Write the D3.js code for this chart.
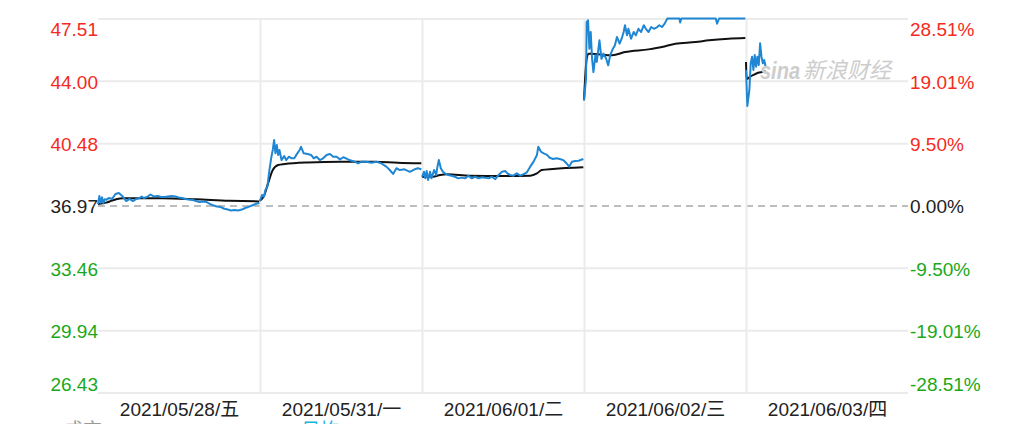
<!DOCTYPE html>
<html>
<head>
<meta charset="utf-8">
<script src="https://cdn.jsdelivr.net/npm/d3@7/dist/d3.min.js"></script>
<style>
body { margin:0; background:#fff; }
svg { font-family:'Liberation Sans', Arial, 'Noto Sans CJK SC', sans-serif; display:block; }
.grid line { stroke:#ebebeb; stroke-width:2; }
.grid .domain, .axis .domain { display:none; }
</style>
</head>
<body>
<div id="plot"></div>
<script>
// five day intraday chart
var dayLabels = ['2021/05/28/五', '2021/05/31/一', '2021/06/01/二', '2021/06/02/三', '2021/06/03/四'];
var dayLen = 241;
var preClose = 36.97;
var priceTicks = [47.51, 44.00, 40.48, 36.97, 33.46, 29.94, 26.43];
var pctTicks = [28.51, 19.01, 9.50, 0.00, -9.50, -19.01, -28.51];

// [minute of day, price]
var day1Price = [[0,37.05],[2,37.50],[4,37.13],[6,37.43],[8,37.10],[10,37.32],[13,37.30],[16,37.39],[21,37.34],[26,37.62],[31,37.67],[36,37.51],[42,37.22],[47,37.34],[52,37.22],[57,37.34],[62,37.39],[65,37.47],[68,37.39],[73,37.45],[78,37.59],[83,37.48],[89,37.51],[94,37.45],[99,37.45],[104,37.48],[109,37.51],[115,37.48],[120,37.42],[125,37.39],[130,37.34],[135,37.31],[141,37.28],[146,37.22],[151,37.17],[156,37.20],[161,37.17],[167,37.05],[172,36.97],[177,36.91],[182,36.89],[187,36.80],[193,36.74],[198,36.69],[203,36.72],[208,36.69],[214,36.74],[219,36.83],[224,36.89],[229,36.97],[234,37.05],[240,37.11]];
var day1Avg = [[0,37.05],[12,37.13],[21,37.25],[27,37.32],[37,37.38],[96,37.38],[146,37.32],[195,37.24],[240,37.20]];

var day2Price = [[0,37.24],[3,37.56],[6,37.47],[8,37.84],[11,38.03],[14,38.97],[17,39.72],[19,40.10],[21,40.66],[23,39.91],[25,40.38],[27,39.82],[29,40.10],[32,39.53],[36,39.76],[39,39.53],[43,39.72],[47,39.63],[51,39.63],[54,39.82],[59,40.10],[61,40.28],[65,39.91],[71,39.87],[76,39.82],[80,39.63],[84,39.72],[89,39.53],[94,39.63],[99,39.82],[104,39.87],[109,39.72],[114,39.72],[119,39.57],[124,39.69],[128,39.63],[133,39.53],[141,39.44],[146,39.35],[151,39.44],[158,39.44],[166,39.38],[173,39.44],[180,39.35],[188,39.16],[193,38.97],[198,38.75],[203,39.07],[208,38.97],[215,39.01],[223,38.87],[230,39.01],[235,39.07],[240,39.01]];
var day2Avg = [[0,37.24],[6,37.51],[12,38.22],[19,38.97],[27,39.25],[37,39.31],[71,39.40],[121,39.44],[170,39.44],[205,39.38],[240,39.35]];

var day3Price = [[0,38.59],[3,38.87],[5,38.50],[7,38.91],[9,38.41],[12,38.87],[14,38.50],[18,38.97],[21,38.69],[23,39.16],[25,39.53],[28,39.07],[31,38.87],[34,38.78],[39,38.69],[44,38.65],[49,38.59],[54,38.50],[59,38.54],[64,38.50],[69,38.65],[74,38.50],[79,38.59],[84,38.50],[89,38.56],[94,38.54],[99,38.50],[104,38.59],[109,38.45],[114,38.69],[119,38.87],[124,38.91],[127,38.78],[131,38.69],[136,38.65],[141,38.78],[146,38.65],[151,38.73],[156,38.84],[161,39.16],[166,39.44],[171,39.82],[173,40.28],[177,40.00],[181,39.91],[186,39.82],[190,39.66],[195,39.59],[200,39.63],[205,39.59],[210,39.53],[215,39.35],[219,39.16],[223,39.44],[228,39.48],[233,39.49],[240,39.59]];
var day3Avg = [[0,38.59],[16,38.59],[27,38.69],[37,38.73],[71,38.65],[121,38.63],[161,38.65],[171,38.78],[178,38.97],[195,39.03],[240,39.12]];

var day4Price = [[0,42.90],[3,44.12],[4,47.31],[6,47.41],[8,45.81],[10,46.75],[12,45.24],[14,44.49],[17,45.44],[19,45.06],[23,46.28],[26,45.24],[29,45.53],[33,45.24],[36,44.87],[39,45.44],[43,45.81],[46,46.00],[49,46.47],[53,46.09],[56,46.37],[59,46.75],[61,47.13],[64,46.56],[66,46.93],[70,46.37],[74,46.75],[77,46.56],[81,46.93],[85,46.75],[89,47.13],[92,46.93],[96,46.75],[100,47.03],[104,46.93],[109,47.03],[112,47.13],[116,47.03],[120,47.22],[124,47.51],[142,47.51],[143,47.29],[145,47.51],[196,47.51],[198,47.22],[201,47.51],[240,47.51]];
var day4Avg = [[0,42.90],[4,45.24],[7,45.53],[12,45.53],[27,45.47],[42,45.44],[61,45.62],[96,45.77],[116,45.90],[136,46.09],[166,46.18],[186,46.28],[215,46.37],[240,46.41]];

var day5Price = [[0,44.60],[2,42.58],[5,43.48],[7,44.98],[9,45.36],[11,44.61],[13,45.45],[15,44.79],[17,45.36],[19,44.89],[21,46.11],[23,45.36],[25,44.98],[27,45.17],[29,44.83]];
var day5Avg = [[0,45.06],[1,44.10],[6,44.23],[11,44.33],[18,44.45],[26,44.51],[29,44.55]];

var prices = [day1Price, day2Price, day3Price, day4Price, day5Price];
var avgs = [day1Avg, day2Avg, day3Avg, day4Avg, day5Avg];

var W = 1021, H = 424;
var m = {top:18.5, right:113, bottom:31.5, left:98};
var w = W - m.left - m.right;
var h = H - m.top - m.bottom;

var red = '#f52a22', green = '#1aa81a', dark = '#222';

function price_color(v) {
  if (Math.abs(v - preClose) < 1e-6) return dark;
  return v > preClose ? red : green;
}

function pct_color(v) {
  if (Math.abs(v) < 1e-6) return dark;
  return v > 0 ? red : green;
}

var svg = d3.select('#plot').append('svg')
  .attr('width', W)
  .attr('height', H);

var g = svg.append('g')
  .attr('transform', 'translate('+m.left+','+m.top+')');

var xscale = d3.scaleLinear().domain([0, dayLabels.length*dayLen]).range([0, w]);
var yscale = d3.scaleLinear().domain([priceTicks[priceTicks.length-1], priceTicks[0]]).range([h, 0]);
var pscale = d3.scaleLinear().domain([pctTicks[pctTicks.length-1], pctTicks[0]]).range([h, 0]);

// horizontal grid
var ygrid = g.append('g').attr('class', 'grid')
  .call(d3.axisLeft(yscale).tickValues(priceTicks).tickSize(-w).tickFormat(''));

ygrid.selectAll('.tick').filter(function(d) { return d == preClose; })
  .select('line')
  .style('stroke', '#a8a8a8')
  .style('stroke-width', 1.5)
  .style('stroke-dasharray', '7,5');

// vertical grid at day boundaries
var bounds = d3.range(1, dayLabels.length).map(function(i) { return i*dayLen; });
g.append('g').attr('class', 'grid')
  .call(d3.axisBottom(xscale).tickValues(bounds).tickSize(h).tickFormat(''));

// watermark
var wm = svg.append('g').attr('fill', '#cdcdcd').attr('font-style', 'italic');
wm.append('text').attr('x', 760).attr('y', 79).attr('font-size', 24).attr('font-weight', 'bold')
  .attr('textLength', 40).attr('lengthAdjust', 'spacingAndGlyphs').text('sina');
wm.append('text').attr('x', 803).attr('y', 78).attr('font-size', 22).text('新浪财经');

// lines
var line = function(day) {
  return d3.line()
    .x(function(d) { return xscale(day*dayLen + d[0]); })
    .y(function(d) { return yscale(d[1]); });
};

avgs.forEach(function(data, i) {
  g.append('path')
    .attr('d', line(i).curve(d3.curveMonotoneX)(data))
    .attr('fill', 'none')
    .attr('stroke', '#111')
    .attr('stroke-width', 2);
});

prices.forEach(function(data, i) {
  g.append('path')
    .attr('d', line(i)(data))
    .attr('fill', 'none')
    .attr('stroke', '#1f86d4')
    .attr('stroke-width', 2)
    .attr('stroke-linejoin', 'round');
});

// axes labels
var n = priceTicks.length;
function label_dy(d, i) {
  if (i == 0) return '0.92em';
  if (i == n-1) return '-0.13em';
  return '0.38em';
}

var yaxis = g.append('g').attr('class', 'axis')
  .call(d3.axisLeft(yscale).tickValues(priceTicks).tickSize(0).tickPadding(0)
    .tickFormat(function(d) { return d.toFixed(2); }));

var paxis = g.append('g').attr('class', 'axis')
  .attr('transform', 'translate('+w+',0)')
  .call(d3.axisRight(pscale).tickValues(pctTicks).tickSize(0).tickPadding(2)
    .tickFormat(function(d) { return d.toFixed(2)+'%'; }));

yaxis.attr('font-size', 19).attr('font-family', null);
yaxis.selectAll('text').attr('dy', label_dy).attr('fill', price_color);

paxis.attr('font-size', 19).attr('font-family', null);
paxis.selectAll('text').attr('dy', label_dy).attr('fill', pct_color);

var xaxis = g.append('g').attr('class', 'axis')
  .attr('transform', 'translate(0,'+h+')')
  .call(d3.axisBottom(xscale)
    .tickValues(dayLabels.map(function(d, i) { return i*dayLen + dayLen/2; }))
    .tickFormat(function(d, i) { return dayLabels[i]; })
    .tickSize(0).tickPadding(10.5));

xaxis.attr('font-size', 19).attr('font-family', null);
xaxis.selectAll('text').attr('fill', dark);

// info row below, mostly cut off by the bottom edge
var info = svg.append('g').attr('font-size', 19);
info.append('text').attr('x', 64).attr('y', 437).attr('fill', '#999').text('成交');
info.append('text').attr('x', 114).attr('y', 437).attr('fill', '#999').text('1151  09:30');
info.append('text').attr('x', 280).attr('y', 437).attr('fill', '#19b5d8').text('20日均: 880.41');
</script>
</body>
</html>
